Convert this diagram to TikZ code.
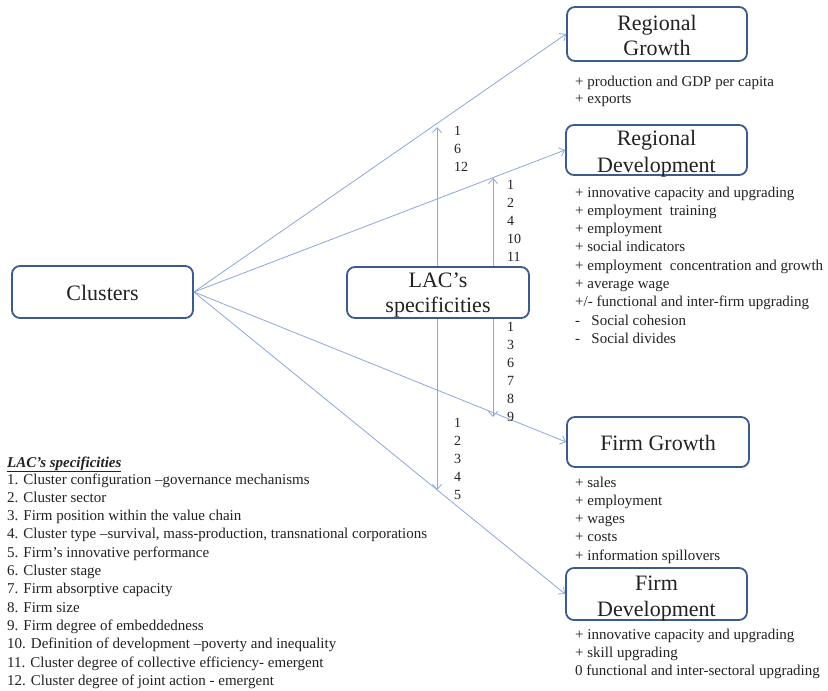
\documentclass[tikz,border=0pt]{standalone}
\usepackage{fontspec}
\setmainfont{Liberation Serif}
\usetikzlibrary{arrows.meta}
\definecolor{boxblue}{HTML}{3B5B8C}
\definecolor{arrblue}{HTML}{8EA6D8}
\definecolor{txt}{HTML}{222222}
\tikzset{
  box/.style={draw=boxblue, line width=1.8pt, rounded corners=8pt, inner sep=0pt},
  title/.style={font=\fontsize{22}{25}\selectfont, anchor=base, inner sep=0pt, text=txt},
  item/.style={font=\fontsize{15}{18}\selectfont, anchor=base west, inner sep=0pt, text=txt},
  num/.style={font=\fontsize{14}{16}\selectfont, anchor=base west, inner sep=0pt, text=txt},
  conn/.style={draw=arrblue, line width=0.8pt, -{Straight Barb[length=5pt,width=9pt]}},
}
\begin{document}
\begin{tikzpicture}[x=1pt,y=-1pt]
\useasboundingbox[fill=white] (0,0) rectangle (828,691);

% boxes
\node[box, minimum width=180, minimum height=54] (rg) at (657,34) {};
\node[box, minimum width=181, minimum height=50] (rd) at (656.5,150) {};
\node[box, minimum width=182, minimum height=50] (fg) at (658,442) {};
\node[box, minimum width=181, minimum height=52] (fd) at (656.5,594) {};
\node[box, minimum width=181, minimum height=52] (cl) at (102.5,292) {};
\node[box, minimum width=182, minimum height=51] (lac) at (438,292.5) {};

% titles
\node[title] (rgt1) at (657,30) {Regional};
\node[title] (rgt2) at (657,55) {Growth};
\node[title] (rdt1) at (656.5,145) {Regional};
\node[title] (rdt2) at (656.5,172) {Development};
\node[title] (fgt) at (658,450.5) {Firm Growth};
\node[title] (fdt1) at (656.5,590) {Firm};
\node[title] (fdt2) at (656.5,616) {Development};
\node[title] (clt) at (102.5,300.5) {Clusters};
\node[title] (lact1) at (438,287) {LAC’s};
\node[title] (lact2) at (438,312) {specificities};

% connectors from Clusters
\draw[conn] (cl.east) -- (rg.west);
\draw[conn] (cl.east) -- (rd.west);
\draw[conn] (cl.east) -- (fg.west);
\draw[conn] (cl.east) -- (fd.west);

% vertical arrows from LAC's specificities
\coordinate (v1top) at (437,127);
\coordinate (v1bot) at (437,490);
\coordinate (v2top) at (493,178);
\coordinate (v2bot) at (493,417);
\draw[conn] (lac.north -| v1top) -- (v1top);
\draw[conn] (lac.south -| v1bot) -- (v1bot);
\draw[conn] (lac.north -| v2top) -- (v2top);
\draw[conn] (lac.south -| v2bot) -- (v2bot);

% numbers
\foreach \t [count=\i from 0] in {1,6,12}
  \node[num] (na\i) at (454,135.5+18*\i) {\t};
\foreach \t [count=\i from 0] in {1,2,4,10,11}
  \node[num] (nb\i) at (507,189.5+18*\i) {\t};
\foreach \t [count=\i from 0] in {1,3,6,7,8,9}
  \node[num] (nc\i) at (507,331.5+18*\i) {\t};
\foreach \t [count=\i from 0] in {1,2,3,4,5}
  \node[num] (nd\i) at (454,427.5+18*\i) {\t};

% regional growth list
\node[item] (rgl0) at (575,86) {+ production and GDP per capita};
\node[item] (rgl1) at (575,103) {+ exports};

% regional development list
\foreach \t [count=\i from 0] in {
  {+ innovative capacity and upgrading},
  {+ employment\ \ training},
  {+ employment},
  {+ social indicators},
  {+ employment\ \ concentration and growth},
  {+ average wage},
  {+/- functional and inter-firm upgrading},
  {-\ \ \ Social cohesion},
  {-\ \ \ Social divides}}
  \node[item] (rdl\i) at (575,197+18.3*\i) {\t};

% firm growth list
\foreach \t [count=\i from 0] in {
  {+ sales},{+ employment},{+ wages},{+ costs},{+ information spillovers}}
  \node[item] (fgl\i) at (575,487+18.3*\i) {\t};

% firm development list
\foreach \t [count=\i from 0] in {
  {+ innovative capacity and upgrading},
  {+ skill upgrading},
  {0 functional and inter-sectoral upgrading}}
  \node[item] (fdl\i) at (575,639+18.4*\i) {\t};

% LAC's specificities legend
\node[item, font=\fontsize{15}{18}\selectfont\bfseries\itshape] (lh) at (7,467) {\underline{LAC’s specificities}};
\foreach \t [count=\i from 0] in {
  {1. Cluster configuration –governance mechanisms},
  {2. Cluster sector},
  {3. Firm position within the value chain},
  {4. Cluster type –survival, mass-production, transnational corporations},
  {5. Firm’s innovative performance},
  {6. Cluster stage},
  {7. Firm absorptive capacity},
  {8. Firm size},
  {9. Firm degree of embeddedness},
  {10. Definition of development –poverty and inequality},
  {11. Cluster degree of collective efficiency- emergent},
  {12. Cluster degree of joint action - emergent}}
  \node[item] (ll\i) at (7,484+18.3*\i) {\t};
\end{tikzpicture}
\end{document}
